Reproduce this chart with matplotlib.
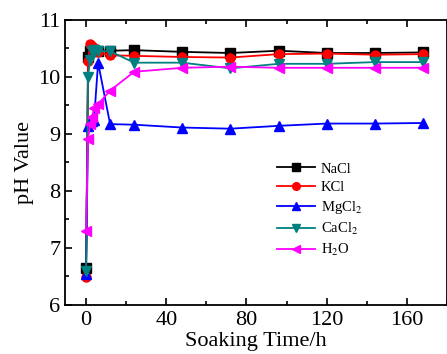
import numpy as np
import matplotlib.pyplot as plt
from matplotlib.ticker import MultipleLocator

plt.rcParams['font.family'] = ['Liberation Serif', 'DejaVu Serif']
plt.rcParams['mathtext.fontset'] = 'stix'

time_h = [0, 1, 2, 3, 4, 6, 12, 24, 48, 72, 96, 120, 144, 168]
ph_nacl = [6.65, 10.35, 10.45, 10.48, 10.47, 10.46, 10.46, 10.47, 10.44, 10.42, 10.46, 10.42, 10.42, 10.43]
ph_kcl = [6.48, 10.28, 10.57, 10.55, 10.50, 10.44, 10.38, 10.37, 10.35, 10.34, 10.40, 10.41, 10.39, 10.40]
ph_mgcl2 = [6.53, 9.13, 9.20, 9.22, 9.25, 10.25, 9.17, 9.16, 9.11, 9.09, 9.14, 9.18, 9.18, 9.19]
ph_cacl2 = [6.59, 10.00, 10.30, 10.45, 10.47, 10.46, 10.45, 10.25, 10.25, 10.15, 10.23, 10.23, 10.26, 10.26]
ph_h2o = [7.30, 8.91, 9.17, 9.30, 9.45, 9.52, 9.76, 10.09, 10.16, 10.18, 10.16, 10.16, 10.16, 10.16]

series = [
    ('NaCl', ph_nacl, 'black', 's'),
    ('KCl', ph_kcl, 'red', 'o'),
    ('MgCl$_2$', ph_mgcl2, 'blue', '^'),
    ('CaCl$_2$', ph_cacl2, '#008080', 'v'),
    ('H$_2$O', ph_h2o, 'magenta', '<'),
]

fig = plt.figure(figsize=(4.47, 3.54), dpi=100)
ax = fig.add_axes([65/447, 1-304.5/354, 1-65/447, (304.5-20)/354])

for lab, y, c, m in series:
    ax.plot(time_h, y, color=c, marker=m, markersize=6.5, linewidth=1.3, label=lab)

ax.set_xlim(-10.5, 180)
ax.set_ylim(6, 11)
ax.xaxis.set_major_locator(MultipleLocator(40))
ax.xaxis.set_minor_locator(MultipleLocator(20))
ax.yaxis.set_major_locator(MultipleLocator(1))
ax.yaxis.set_minor_locator(MultipleLocator(0.5))
ax.tick_params(which='both', direction='in', top=True, right=False, labelsize=16, width=1.2)
ax.tick_params(which='major', length=5)
ax.tick_params(which='minor', length=3)
ax.tick_params(axis='x', pad=5)
for s in ax.spines.values():
    s.set_linewidth(1.3)

ax.set_xlabel('Soaking Time/h', fontsize=16, labelpad=1)
ax.set_ylabel('pH Value', fontsize=16, labelpad=3)

ax.legend(loc='upper left', bbox_to_anchor=(0.54, 0.52), frameon=False, fontsize=10.5,
          handlelength=2.6, labelspacing=0.35, borderaxespad=0, handletextpad=0.4,
          markerscale=0.85)

fig.savefig('out.png', dpi=100)
